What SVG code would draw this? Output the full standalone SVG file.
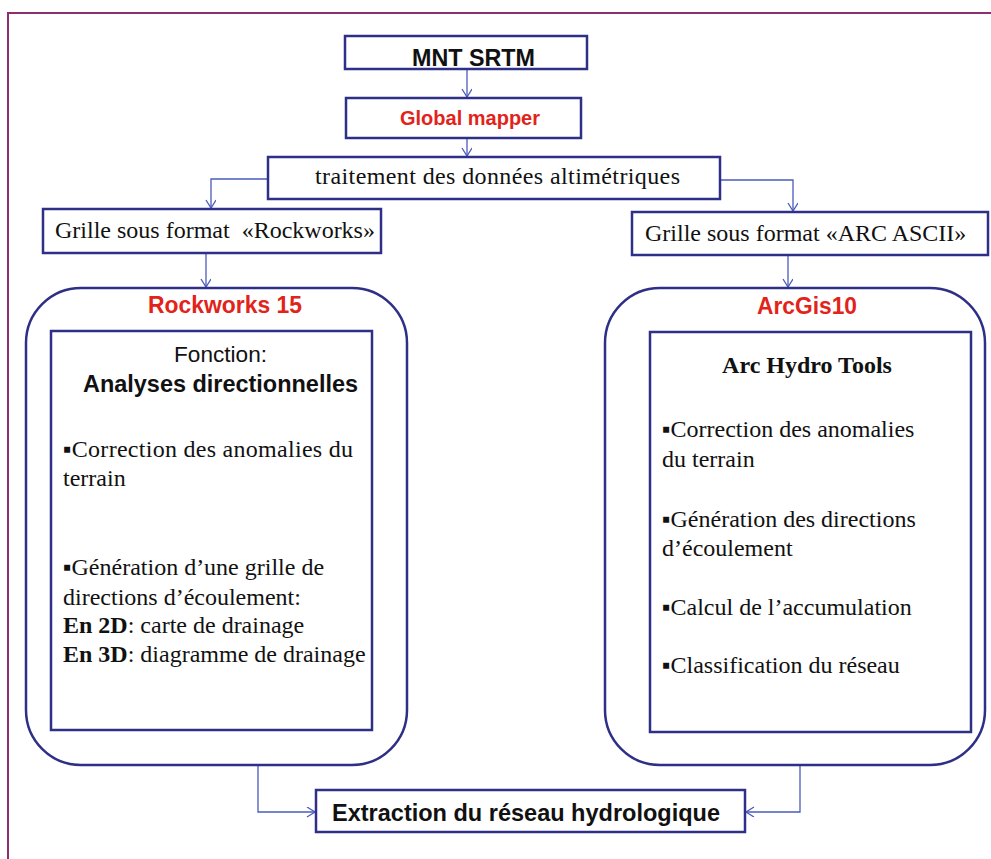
<svg xmlns="http://www.w3.org/2000/svg" width="991" height="859" viewBox="0 0 991 859">
<style>
.box{fill:#fff;stroke:#2e2f86;stroke-width:2.5}
.cont{fill:none;stroke:#2e2f86;stroke-width:2.5}
.con{fill:none;stroke:#4a5bbd;stroke-width:1.3}
.sans{font-family:"Liberation Sans",Arial,sans-serif;fill:#111}
.serif{font-family:"Liberation Serif","Times New Roman",serif;fill:#111;font-size:24px}
.red{fill:#e2231a;font-weight:bold}
.b{font-weight:bold}
</style>
<defs>
<marker id="ah" markerUnits="userSpaceOnUse" markerWidth="14" markerHeight="14" refX="9" refY="5" orient="auto">
<path d="M1,0 L9,5 L1,10" fill="none" stroke="#4a5bbd" stroke-width="1.3"/>
</marker>
</defs>
<rect x="0" y="0" width="991" height="859" fill="#fff"/>
<rect x="8" y="13" width="1000" height="900" fill="none" stroke="#8c2f6e" stroke-width="2"/>

<g id="connectors">
<path class="con" d="M467,69 V97" marker-end="url(#ah)"/>
<path class="con" d="M467,138 V156" marker-end="url(#ah)"/>
<path class="con" d="M268,179 H211 V208" marker-end="url(#ah)"/>
<path class="con" d="M720,180 H793 V211" marker-end="url(#ah)"/>
<path class="con" d="M206,253 V287" marker-end="url(#ah)"/>
<path class="con" d="M788,255 V287" marker-end="url(#ah)"/>
<path class="con" d="M258,765 V812 H315" marker-end="url(#ah)"/>
<path class="con" d="M800,765 V812 H746" marker-end="url(#ah)"/>
</g>

<g id="mnt">
<rect class="box" x="345" y="36" width="242" height="33"/>
<text class="sans b" x="412" y="66" font-size="23" textLength="123" lengthAdjust="spacingAndGlyphs">MNT SRTM</text>
</g>

<g id="global">
<rect class="box" x="346" y="98" width="235" height="40"/>
<text class="sans red" x="400" y="125" font-size="20.5" textLength="140" lengthAdjust="spacingAndGlyphs">Global mapper</text>
</g>

<g id="traitement">
<rect class="box" x="268" y="157" width="452" height="42"/>
<text class="serif" x="315" y="184" textLength="365" lengthAdjust="spacing">traitement des données altimétriques</text>
</g>

<g id="grille-rock">
<rect class="box" x="43" y="209" width="338" height="44"/>
<text class="serif" x="55" y="238" xml:space="preserve">Grille sous format  «Rockworks»</text>
</g>

<g id="grille-arc">
<rect class="box" x="632" y="212" width="356" height="43"/>
<text class="serif" x="645" y="241">Grille sous format «ARC ASCII»</text>
</g>

<g id="rockworks">
<rect class="cont" x="26" y="288" width="381" height="477" rx="55" ry="55"/>
<text class="sans red" x="148" y="313" font-size="23" textLength="154" lengthAdjust="spacingAndGlyphs">Rockworks 15</text>
<rect class="box" x="51" y="331" width="321" height="399"/>
<text class="sans" x="174" y="362" font-size="22.5" textLength="93" lengthAdjust="spacingAndGlyphs">Fonction:</text>
<text class="sans b" x="83" y="392" font-size="24" textLength="275" lengthAdjust="spacingAndGlyphs">Analyses directionnelles</text>
<text class="serif" x="63" y="457" textLength="290" lengthAdjust="spacing">▪Correction des anomalies du</text>
<text class="serif" x="63" y="486">terrain</text>
<text class="serif" x="63" y="575">▪Génération d’une grille de</text>
<text class="serif" x="63" y="605">directions d’écoulement:</text>
<text class="serif" x="63" y="633"><tspan class="b">En 2D</tspan>: carte de drainage</text>
<text class="serif" x="63" y="662"><tspan class="b">En 3D</tspan>: diagramme de drainage</text>
</g>

<g id="arcgis">
<rect class="cont" x="605" y="288" width="380" height="477" rx="55" ry="55"/>
<text class="sans red" x="757" y="314" font-size="23" textLength="100" lengthAdjust="spacingAndGlyphs">ArcGis10</text>
<rect class="box" x="650" y="332" width="321" height="400"/>
<text class="serif b" x="807" y="373" font-size="25" text-anchor="middle">Arc Hydro Tools</text>
<text class="serif" x="662" y="437">▪Correction des anomalies</text>
<text class="serif" x="662" y="467">du terrain</text>
<text class="serif" x="662" y="527">▪Génération des directions</text>
<text class="serif" x="662" y="556">d’écoulement</text>
<text class="serif" x="662" y="615">▪Calcul de l’accumulation</text>
<text class="serif" x="662" y="673">▪Classification du réseau</text>
</g>

<g id="extraction">
<rect class="box" x="316" y="790" width="429" height="42"/>
<text class="sans b" x="332" y="821" font-size="24.5" textLength="388" lengthAdjust="spacingAndGlyphs">Extraction du réseau hydrologique</text>
</g>
</svg>
